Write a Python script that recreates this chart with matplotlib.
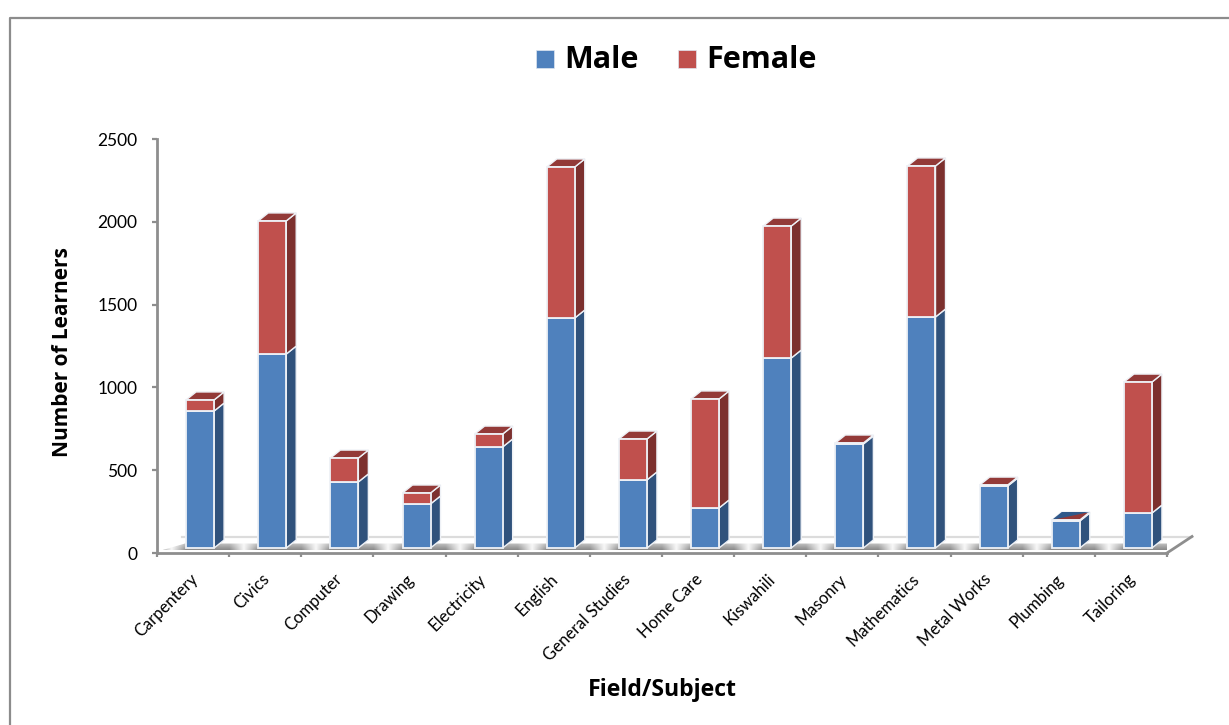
import matplotlib
matplotlib.use("Agg")
import matplotlib.pyplot as plt
from matplotlib.patches import Polygon, Rectangle
import numpy as np

plt.rcParams['font.family'] = ['Lato', 'DejaVu Sans']

categories = ["Carpentery", "Civics", "Computer", "Drawing", "Electricity", "English",
              "General Studies", "Home Care", "Kiswahili", "Masonry", "Mathematics",
              "Metal Works", "Plumbing", "Tailoring"]
male = [827, 1171, 399, 266, 610, 1389, 411, 242, 1147, 628, 1395, 374, 163, 211]
female = [67, 804, 144, 66, 78, 912, 247, 658, 797, 6, 912, 6, 6, 791]
y_ticks = [0, 500, 1000, 1500, 2000, 2500]

W, H = 1229, 725
BLUE, BLUE_SIDE, BLUE_TOP = "#4f81bd", "#30527c", "#30598a"
RED, RED_SIDE, RED_TOP = "#c0504d", "#7c302e", "#933a38"
EDGE = "#eef1f6"
AXIS = "#8e8e8e"

fig = plt.figure(figsize=(W / 100, H / 100), dpi=100)
# axes box in pixels: x 157-1167, y 139-553
ax = fig.add_axes([157 / W, 1 - 553 / H, 1010 / W, 414 / H])

# pixel sizes in data units
px_x = 14 / 1010
px_y = 2500 / 414
depth_x = 10 * px_x
depth_y = 8 * px_y
shift_x = 7 * px_x
base = 5 * px_y
bar_w = 28 * px_x

# floor: grey band with lighter patches just right of each tick
gx = np.linspace(0, 14, 1400)
dist = np.abs(((gx - 0.2 + 0.5) % 1) - 0.5)
light = np.clip(1 - dist / 0.2, 0, 1)
grey = 0.76 - 0.22 * np.linspace(0, 1, 12)
shade = grey[:, None] + light * (0.97 - grey[:, None])
floor_low, floor_high = 0.5 * base, 1.9 * base
img = ax.imshow(shade, extent=[0, 14, floor_low, floor_high], origin="upper", cmap="gray",
                vmin=0, vmax=1, aspect="auto", zorder=1)
floor = Polygon([(4 * px_x, floor_low), (14, floor_low), (14 + 11 * px_x, floor_high), (28 * px_x, floor_high)],
                closed=True, transform=ax.transData, facecolor="none", edgecolor="none")
ax.add_patch(floor)
img.set_clip_path(floor)

# back edge and right edge of the floor
ax.plot([25 * px_x, 14 + 25 * px_x], [16.5 * px_y, 16.5 * px_y], color="#dcdcdc", lw=1.6, clip_on=False, zorder=1)
ax.plot([14, 14 + 25 * px_x], [0, 16.5 * px_y], color=AXIS, lw=2, clip_on=False, zorder=2)

# bars
for i in range(len(categories)):
    left = i + 0.5 + shift_x - bar_w / 2
    right = left + bar_w
    m_top = base + male[i]
    f_top = m_top + female[i]
    z = 3 + i
    ax.bar(left, male[i], width=bar_w, bottom=base, align="edge", color=BLUE, edgecolor=EDGE, lw=1.3, zorder=z + 0.2)
    ax.bar(left, female[i], width=bar_w, bottom=m_top, align="edge", color=RED, edgecolor=EDGE, lw=1.3, zorder=z + 0.2)
    ax.add_patch(Polygon([(right, base), (right + depth_x, base + depth_y),
                          (right + depth_x, m_top + depth_y), (right, m_top)],
                         facecolor=BLUE_SIDE, edgecolor=EDGE, lw=1.0, zorder=z, clip_on=False))
    ax.add_patch(Polygon([(right, m_top), (right + depth_x, m_top + depth_y),
                          (right + depth_x, f_top + depth_y), (right, f_top)],
                         facecolor=RED_SIDE, edgecolor=EDGE, lw=1.0, zorder=z, clip_on=False))
    top = [(left, f_top), (right, f_top), (right + depth_x, f_top + depth_y), (left + depth_x, f_top + depth_y)]
    ax.add_patch(Polygon(top, facecolor=RED_TOP, edgecolor=EDGE, lw=1.0, zorder=z + 0.1, clip_on=False))
    if categories[i] == "Plumbing":
        ax.add_patch(Polygon([top[0], top[2], top[3]], facecolor=BLUE_TOP, edgecolor="none", zorder=z + 0.15, clip_on=False))

ax.set_xlim(0, 14)
ax.set_ylim(0, 2500)
ax.set_xticks(np.arange(15))
ax.set_xticklabels([])
ax.set_yticks(y_ticks)
ax.tick_params(axis="y", length=3.6, width=1.6, color=AXIS, labelsize=12.5, pad=10.5)
ax.tick_params(axis="x", length=2.9, width=1.6, color=AXIS)
for side in ["top", "right"]:
    ax.spines[side].set_visible(False)
for side in ["left", "bottom"]:
    ax.spines[side].set_color(AXIS)
    ax.spines[side].set_linewidth(2)
ax.patch.set_alpha(0)

for i, name in enumerate(categories):
    ax.annotate(name, xy=(i + 0.5, 0), xytext=(-2.5, -13), textcoords="offset points", rotation=45,
                ha="right", va="top", rotation_mode="anchor", fontsize=12)

# outer chart frame, open on the right and bottom
fig.add_artist(plt.Line2D([9.5 / W, 9.5 / W, 1], [0, 1 - 17.5 / H, 1 - 17.5 / H], color="#8c8c8c", lw=1.6))

# titles
fig.text(62 / W, 1 - 352 / H, "Number of Learners", rotation=90, ha="center", va="center",
         fontsize=15, fontweight="bold", family="Open Sans")
fig.text(662 / W, 1 - 690 / H, "Field/Subject", ha="center", va="center",
         fontsize=16.6, fontweight="bold", family="Open Sans")

# legend
for x, color, name, tx in [(536, BLUE, "Male", 564), (678, RED, "Female", 706)]:
    fig.add_artist(Rectangle((x / W, 1 - 67.5 / H), 18 / W, 18 / H, transform=fig.transFigure, facecolor=color, edgecolor="#dfe6f0", lw=0.5))
    fig.text(tx / W, 1 - 60 / H, name, ha="left", va="center", fontsize=22, fontweight="bold", family="Open Sans")

fig.savefig("out.png", dpi=100, facecolor="white")
